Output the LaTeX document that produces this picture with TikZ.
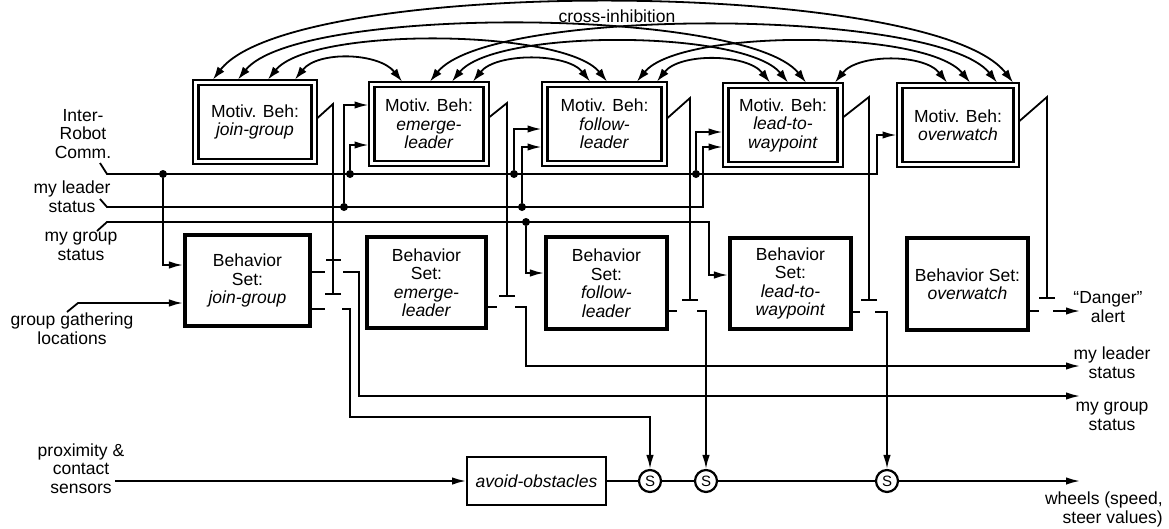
\documentclass[tikz,border=0pt]{standalone}
\usepackage{fontspec}
\setmainfont{Liberation Sans}
\usetikzlibrary{arrows.meta}
\begin{document}
\begin{tikzpicture}[x=1pt,y=-1pt,
  font=\fontsize{17.5}{18.5}\selectfont,
  wire/.style={line width=1.8pt},
  arr/.style={wire,-{Latex[length=14pt,width=7.5pt]}},
  inh/.style={wire,-{Bar[width=16pt]}},
  xinh/.style={line width=1.8pt,{Latex[length=13pt,width=8.5pt]}-{Latex[length=13pt,width=8.5pt]}},
  mout/.style={draw,line width=1.1pt,minimum height=84pt,inner sep=0pt,outer sep=0.5pt},
  mtext/.style={draw,line width=2.8pt,minimum height=74pt,inner sep=0pt,align=center},
  bset/.style={draw,line width=3.8pt,minimum height=91.4pt,inner sep=0pt,align=center},
  lbl/.style={align=center,inner sep=0pt,anchor=base},
  jdot/.style={circle,fill,inner sep=0pt,minimum size=8pt},
  sw/.style={circle,draw,fill=white,line width=2.2pt,minimum size=22pt,inner sep=0pt,font=\fontsize{15}{15}\selectfont}
]
\useasboundingbox (0,0) rectangle (1169,528);

% ---------- motivational behaviours ----------
\node[mout,minimum width=124pt] (M1) at (255,122) {};
\node[mtext,minimum width=113pt] (M1t) at (M1) {Motiv. Beh:\\\textit{join-group}};
\node[mout,minimum width=120pt] (M2) at (429,124) {};
\node[mtext,minimum width=109pt] (M2t) at (M2) {Motiv. Beh:\\\textit{emerge-}\\\textit{leader}};
\node[mout,minimum width=125pt] (M3) at (604.5,124) {};
\node[mtext,minimum width=114pt] (M3t) at (M3) {Motiv. Beh:\\\textit{follow-}\\\textit{leader}};
\node[mout,minimum width=120pt] (M4) at (783,125) {};
\node[mtext,minimum width=109pt] (M4t) at (M4) {Motiv. Beh:\\\textit{lead-to-}\\\textit{waypoint}};
\node[mout,minimum width=122pt] (M5) at (958,125) {};
\node[mtext,minimum width=111pt] (M5t) at (M5) {Motiv. Beh:\\\textit{overwatch}};

% ---------- behaviour sets ----------
\node[bset,minimum width=125.4pt] (B1) at (247.5,280.5) {Behavior\\Set:\\\textit{join-group}};
\node[bset,minimum width=119.4pt] (B2) at (426.5,282.5) {Behavior\\Set:\\\textit{emerge-}\\\textit{leader}};
\node[bset,minimum width=121.4pt] (B3) at (606.5,283) {Behavior\\Set:\\\textit{follow-}\\\textit{leader}};
\node[bset,minimum width=121.4pt] (B4) at (790.5,283.5) {Behavior\\Set:\\\textit{lead-to-}\\\textit{waypoint}};
\node[bset,minimum width=121.4pt] (B5) at (967.5,284) {Behavior Set:\\\textit{overwatch}};

% ---------- avoid obstacles and switches ----------
\node[draw,line width=1.9pt,minimum width=139pt,minimum height=48pt,inner sep=0pt,font=\fontsize{17.5}{18.5}\selectfont\itshape] (AO) at (536.5,481) {avoid-obstacles};
\node[sw] (S1) at (650,481) {S};
\node[sw] (S2) at (706,481) {S};
\node[sw] (S3) at (887,481) {S};

% ---------- labels (anchor = baseline of last line) ----------
\node[lbl] (ci) at (617,22) {cross-inhibition};
\node[lbl] (irc) at (83,158) {Inter-\\Robot\\Comm.};
\node[lbl] (mls) at (72,212) {my leader\\status};
\node[lbl] (mgs) at (81,260) {my group\\status};
\node[lbl] (ggl) at (72,344) {group gathering\\locations};
\node[lbl] (pcs) at (81,493) {proximity \&\\contact\\sensors};
\node[lbl] (dang) at (1108,322) {“Danger”\\alert};
\node[lbl] (olead) at (1112,378) {my leader\\status};
\node[lbl] (ogrp) at (1112,430) {my group\\status};
\node[lbl,anchor=base east,align=right] (whl) at (1163,523) {wheels (speed,\\steer values)};

% ---------- cross-inhibition arcs ----------
\draw[xinh] ([xshift=40pt]M1.north) .. controls +(23,-29) and +(-23,-29) .. ([xshift=-27pt]M2.north);
\draw[xinh] ([xshift=13pt]M1.north) .. controls +(43,-53) and +(-43,-53) .. ([xshift=2.5pt]M3.north);
\draw[xinh] ([xshift=-17pt]M1.north) .. controls +(60,-75) and +(-60,-75) .. ([xshift=23pt]M4.north);
\draw[xinh] ([xshift=-42pt]M1.north) .. controls +(80,-104) and +(-80,-104) .. ([xshift=55pt]M5.north);
\draw[xinh] ([xshift=44pt]M2.north) .. controls +(23,-29) and +(-23,-29) .. ([xshift=-14.5pt]M3.north);
\draw[xinh] ([xshift=23pt]M2.north) .. controls +(43,-53) and +(-43,-53) .. ([xshift=5pt]M4.north);
\draw[xinh] ([xshift=1pt]M2.north) .. controls +(60,-75) and +(-60,-75) .. ([xshift=39pt]M5.north);
\draw[xinh] ([xshift=52.5pt]M3.north) .. controls +(23,-29) and +(-23,-29) .. ([xshift=-13pt]M4.north);
\draw[xinh] ([xshift=32.5pt]M3.north) .. controls +(43,-53) and +(-43,-53) .. ([xshift=12pt]M5.north);
\draw[xinh] ([xshift=52pt]M4.north) .. controls +(23,-29) and +(-23,-29) .. ([xshift=-11pt]M5.north);

% ---------- inhibition lines ----------
\draw[inh] (M1.east |- 0,118) -- (333,104) -- (333,295);
\draw[wire] (326,260) -- (341,260);
\draw[inh] (M2.east |- 0,117) -- (507,103) -- (507,297);
\draw[inh] (M3.east |- 0,118) -- (690,98) -- (690,301);
\draw[inh] (M4.east |- 0,117) -- (869,97) -- (869,301);
\draw[inh] (M5.east |- 0,121) -- (1047,97) -- (1047,299);

% ---------- input lines ----------
\coordinate (irT) at (100,163);
\coordinate (mlT) at (100,199);
\coordinate (mgT) at (97,231);
\coordinate (ggT) at (67,312);
\coordinate (sens) at (115,481);
\draw[arr] (irT) -- (107,174) -- (877,174) -- (877,135) -- (M5.west |- 0,135);
\draw[arr] (mlT) -- (107,207) -- (703,207) -- (703,147) -- (M4.west |- 0,147);
\draw[arr] (mgT) -- (107,222) -- (709,222) -- (709,275) -- (B4.west |- 0,275);
\draw[arr] (ggT) -- (78,303) -- (B1.west |- 0,303);

\node[jdot] (j1) at (163,174) {};
\node[jdot] (j2) at (350,174) {};
\node[jdot] (j3) at (514,174) {};
\node[jdot] (j4) at (696,174) {};
\node[jdot] (l1) at (344,207) {};
\node[jdot] (l2) at (522,207) {};
\node[jdot] (g1) at (526,222) {};

\draw[arr] (j1) |- (B1.west |- 0,265);
\draw[arr] (j2) |- (M2.west |- 0,145);
\draw[arr] (l1) |- (M2.west |- 0,105);
\draw[arr] (j3) |- (M3.west |- 0,129);
\draw[arr] (l2) |- (M3.west |- 0,147);
\draw[arr] (g1) |- (B3.west |- 0,273);
\draw[arr] (j4) |- (M4.west |- 0,132);

% ---------- outputs ----------
\coordinate (oG) at (1080,396);
\coordinate (oL) at (1080,366);
\coordinate (oD) at (1080,311);
\coordinate (oW) at (1080,481);
\draw[wire] (B1.east |- 0,272) -- (325,272);
\draw[wire] (B1.east |- 0,309) -- (325,309);
\draw[arr] (343,272) -- (359,272) |- (oG);
\draw[arr] (342,309) -- (350,309) -- (350,417) -| (S1.north);
\draw[wire] (B2.east |- 0,307) -- (497,307);
\draw[arr] (515,307) -- (526,307) |- (oL);
\draw[wire] (B3.east |- 0,311) -- (677,311);
\draw[arr] (697,311) -| (S2.north);
\draw[wire] (B4.east |- 0,312) -- (860,312);
\draw[arr] (875,312) -| (S3.north);
\draw[wire] (B5.east |- 0,311) -- (1039,311);
\draw[arr] (1053,311) -- (oD);

% ---------- bottom chain ----------
\draw[arr] (sens) -- (AO);
\draw[wire] (AO) -- (S1) -- (S2) -- (S3);
\draw[arr] (S3) -- (oW);
\end{tikzpicture}
\end{document}
